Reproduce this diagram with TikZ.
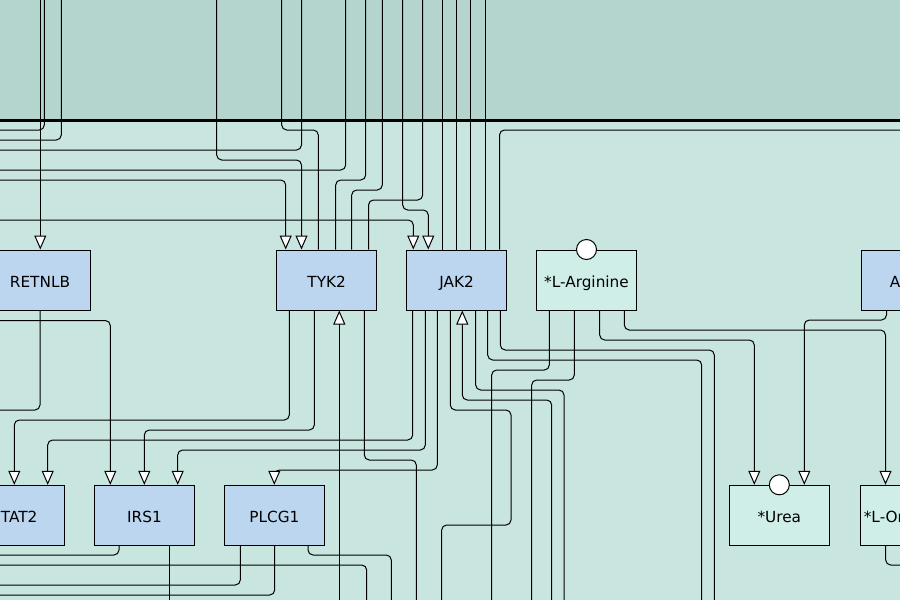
\documentclass[tikz,border=0pt]{standalone}
\usepackage{fontspec}
\setmainfont{DejaVu Sans}
\usetikzlibrary{arrows.meta}
\definecolor{topbg}{HTML}{B3D5CE}
\definecolor{botbg}{HTML}{C8E5E0}
\definecolor{genefill}{HTML}{BCD6F0}
\definecolor{metfill}{HTML}{D0EEE8}
\begin{document}
\begin{tikzpicture}[x=1pt,y=-1pt,
  gene/.style={draw=black, line width=1pt, fill=genefill, minimum width=100pt, minimum height=60pt, inner sep=0pt, text height=15pt, text depth=0pt, font=\fontsize{15.3}{18}\selectfont},
  metab/.style={gene, fill=metfill},
  conn/.style={draw=black, line width=1pt, rounded corners=5pt},
  arr/.style={conn, -{Triangle[width=12pt,length=14pt,fill=white]}},
  port/.style={circle, draw=black, fill=white, line width=1pt, minimum size=20pt, inner sep=0pt}]
\useasboundingbox (0,0) rectangle (900,600);
\clip (0,0) rectangle (900,600);
% compartments
\fill[topbg] (0,0) rectangle (900,120);
\fill[botbg] (0,120) rectangle (900,600);
\draw[line width=3pt] (-5,120) -- (905,120);
% nodes
\node[gene] (retnlb) at (40,280) {RETNLB};
\node[gene] (tyk2) at (326.7,280) {TYK2};
\node[gene] (jak2) at (456.7,280) {JAK2};
\node[metab] (larg) at (586.5,280) {*L-Arginine};
\node[gene] (arg1) at (911.3,280) {ARG1};
\node[gene] (stat2) at (14.3,515.3) {STAT2};
\node[gene] (irs1) at (144.5,515.3) {IRS1};
\node[gene] (plcg1) at (274.4,515.3) {PLCG1};
\node[metab] (urea) at (779.3,515.3) {*Urea};
\node[metab] (lorn) at (910.3,515.3) {*L-Ornithine};
\node[port] (largport) at (larg.north) {};
\node[port] (ureaport) at (urea.north) {};
% connectors above the nodes
\draw[arr] (40.3,0) -- (40.3,0 |- retnlb.north);
\draw[conn] (44.3,0) -- (44.3,130) -- (0,130);
\draw[conn] (61.3,0) -- (61.3,140) -- (0,140);
\draw[conn] (301.5,0) -- (301.5,150) -- (0,150);
\draw[arr] (216.7,0) -- (216.7,160) -- (301.5,160) -- (301.5,0 |- tyk2.north);
\draw[conn] (0,170) -- (345.7,170) -- (345.7,0);
\draw[arr] (0,180) -- (285.7,180) -- (285.7,0 |- tyk2.north);
\draw[arr] (0,220) -- (413.3,220) -- (413.3,0 |- jak2.north);
\draw[conn] (281.7,0) -- (281.7,130) -- (318.3,130) -- (318.3,0 |- tyk2.north);
\draw[conn] (365.7,0) -- (365.7,180) -- (335.7,180) -- (335.7,0 |- tyk2.north);
\draw[conn] (382.3,0) -- (382.3,190) -- (351.7,190) -- (351.7,0 |- tyk2.north);
\draw[conn] (422.7,0) -- (422.7,200) -- (368.5,200) -- (368.5,0 |- tyk2.north);
\draw[arr] (402.7,0) -- (402.7,210) -- (428.3,210) -- (428.3,0 |- jak2.north);
\foreach \x in {442.5,456.5,470.5,485.5} \draw[conn] (\x,0) -- (\x,0 |- jak2.north);
\draw[conn] (900,130) -- (499.5,130) -- (499.5,0 |- jak2.north);
% connectors below the nodes
\draw[conn] (40,0 |- retnlb.south) -- (40,410) -- (0,410);
\draw[arr] (0,320.5) -- (110.3,320.5) -- (110.3,0 |- irs1.north);
\draw[arr] (289.3,0 |- tyk2.south) -- (289.3,420) -- (14.3,420) -- (14.3,0 |- stat2.north);
\draw[arr] (314.3,0 |- tyk2.south) -- (314.3,430) -- (144.3,430) -- (144.3,0 |- irs1.north);
\draw[arr] (339.3,600) -- (339.3,0 |- tyk2.south);
\draw[conn] (364.3,0 |- tyk2.south) -- (364.3,460) -- (416.3,460) -- (416.3,600);
\draw[arr] (412.7,0 |- jak2.south) -- (412.7,440) -- (47.7,440) -- (47.7,0 |- stat2.north);
\draw[arr] (425.3,0 |- jak2.south) -- (425.3,450) -- (177.7,450) -- (177.7,0 |- irs1.north);
\draw[arr] (437.3,0 |- jak2.south) -- (437.3,470) -- (274.3,470) -- (274.3,0 |- plcg1.north);
\draw[conn] (450.3,0 |- jak2.south) -- (450.3,410) -- (511,410) -- (511,525) -- (441.7,525) -- (441.7,600);
\draw[arr] (551.7,600) -- (551.7,400) -- (462.3,400) -- (462.3,0 |- jak2.south);
\draw[conn] (475.7,0 |- jak2.south) -- (475.7,390) -- (564,390) -- (564,600);
\draw[conn] (487.7,0 |- jak2.south) -- (487.7,360) -- (701.7,360) -- (701.7,600);
\draw[conn] (500.3,0 |- jak2.south) -- (500.3,350) -- (714.3,350) -- (714.3,600);
\draw[conn] (549.3,0 |- larg.south) -- (549.3,370) -- (491.7,370) -- (491.7,600);
\draw[conn] (574.3,0 |- larg.south) -- (574.3,380) -- (531.7,380) -- (531.7,600);
\draw[arr] (599.7,0 |- larg.south) -- (599.7,340) -- (754.3,340) -- (754.3,0 |- urea.north);
\draw[arr] (624.3,0 |- larg.south) -- (624.3,330) -- (885.5,330) -- (885.5,0 |- lorn.north);
\draw[arr] (886.5,0 |- arg1.south) -- (886.5,320) -- (804.3,320) -- (804.3,0 |- urea.north);
\draw[conn] (885.7,0 |- lorn.south) -- (885.7,565) -- (900,565);
\draw[conn] (119,0 |- irs1.south) -- (119,555) -- (0,555);
\draw[conn] (169.7,0 |- irs1.south) -- (169.7,600);
\draw[conn] (0,565) -- (366.7,565) -- (366.7,600);
\draw[conn] (240.3,0 |- plcg1.south) -- (240.3,585) -- (0,585);
\draw[conn] (274.7,0 |- plcg1.south) -- (274.7,595) -- (0,595);
\draw[conn] (308,0 |- plcg1.south) -- (308,555) -- (391.3,555) -- (391.3,600);
\end{tikzpicture}
\end{document}
